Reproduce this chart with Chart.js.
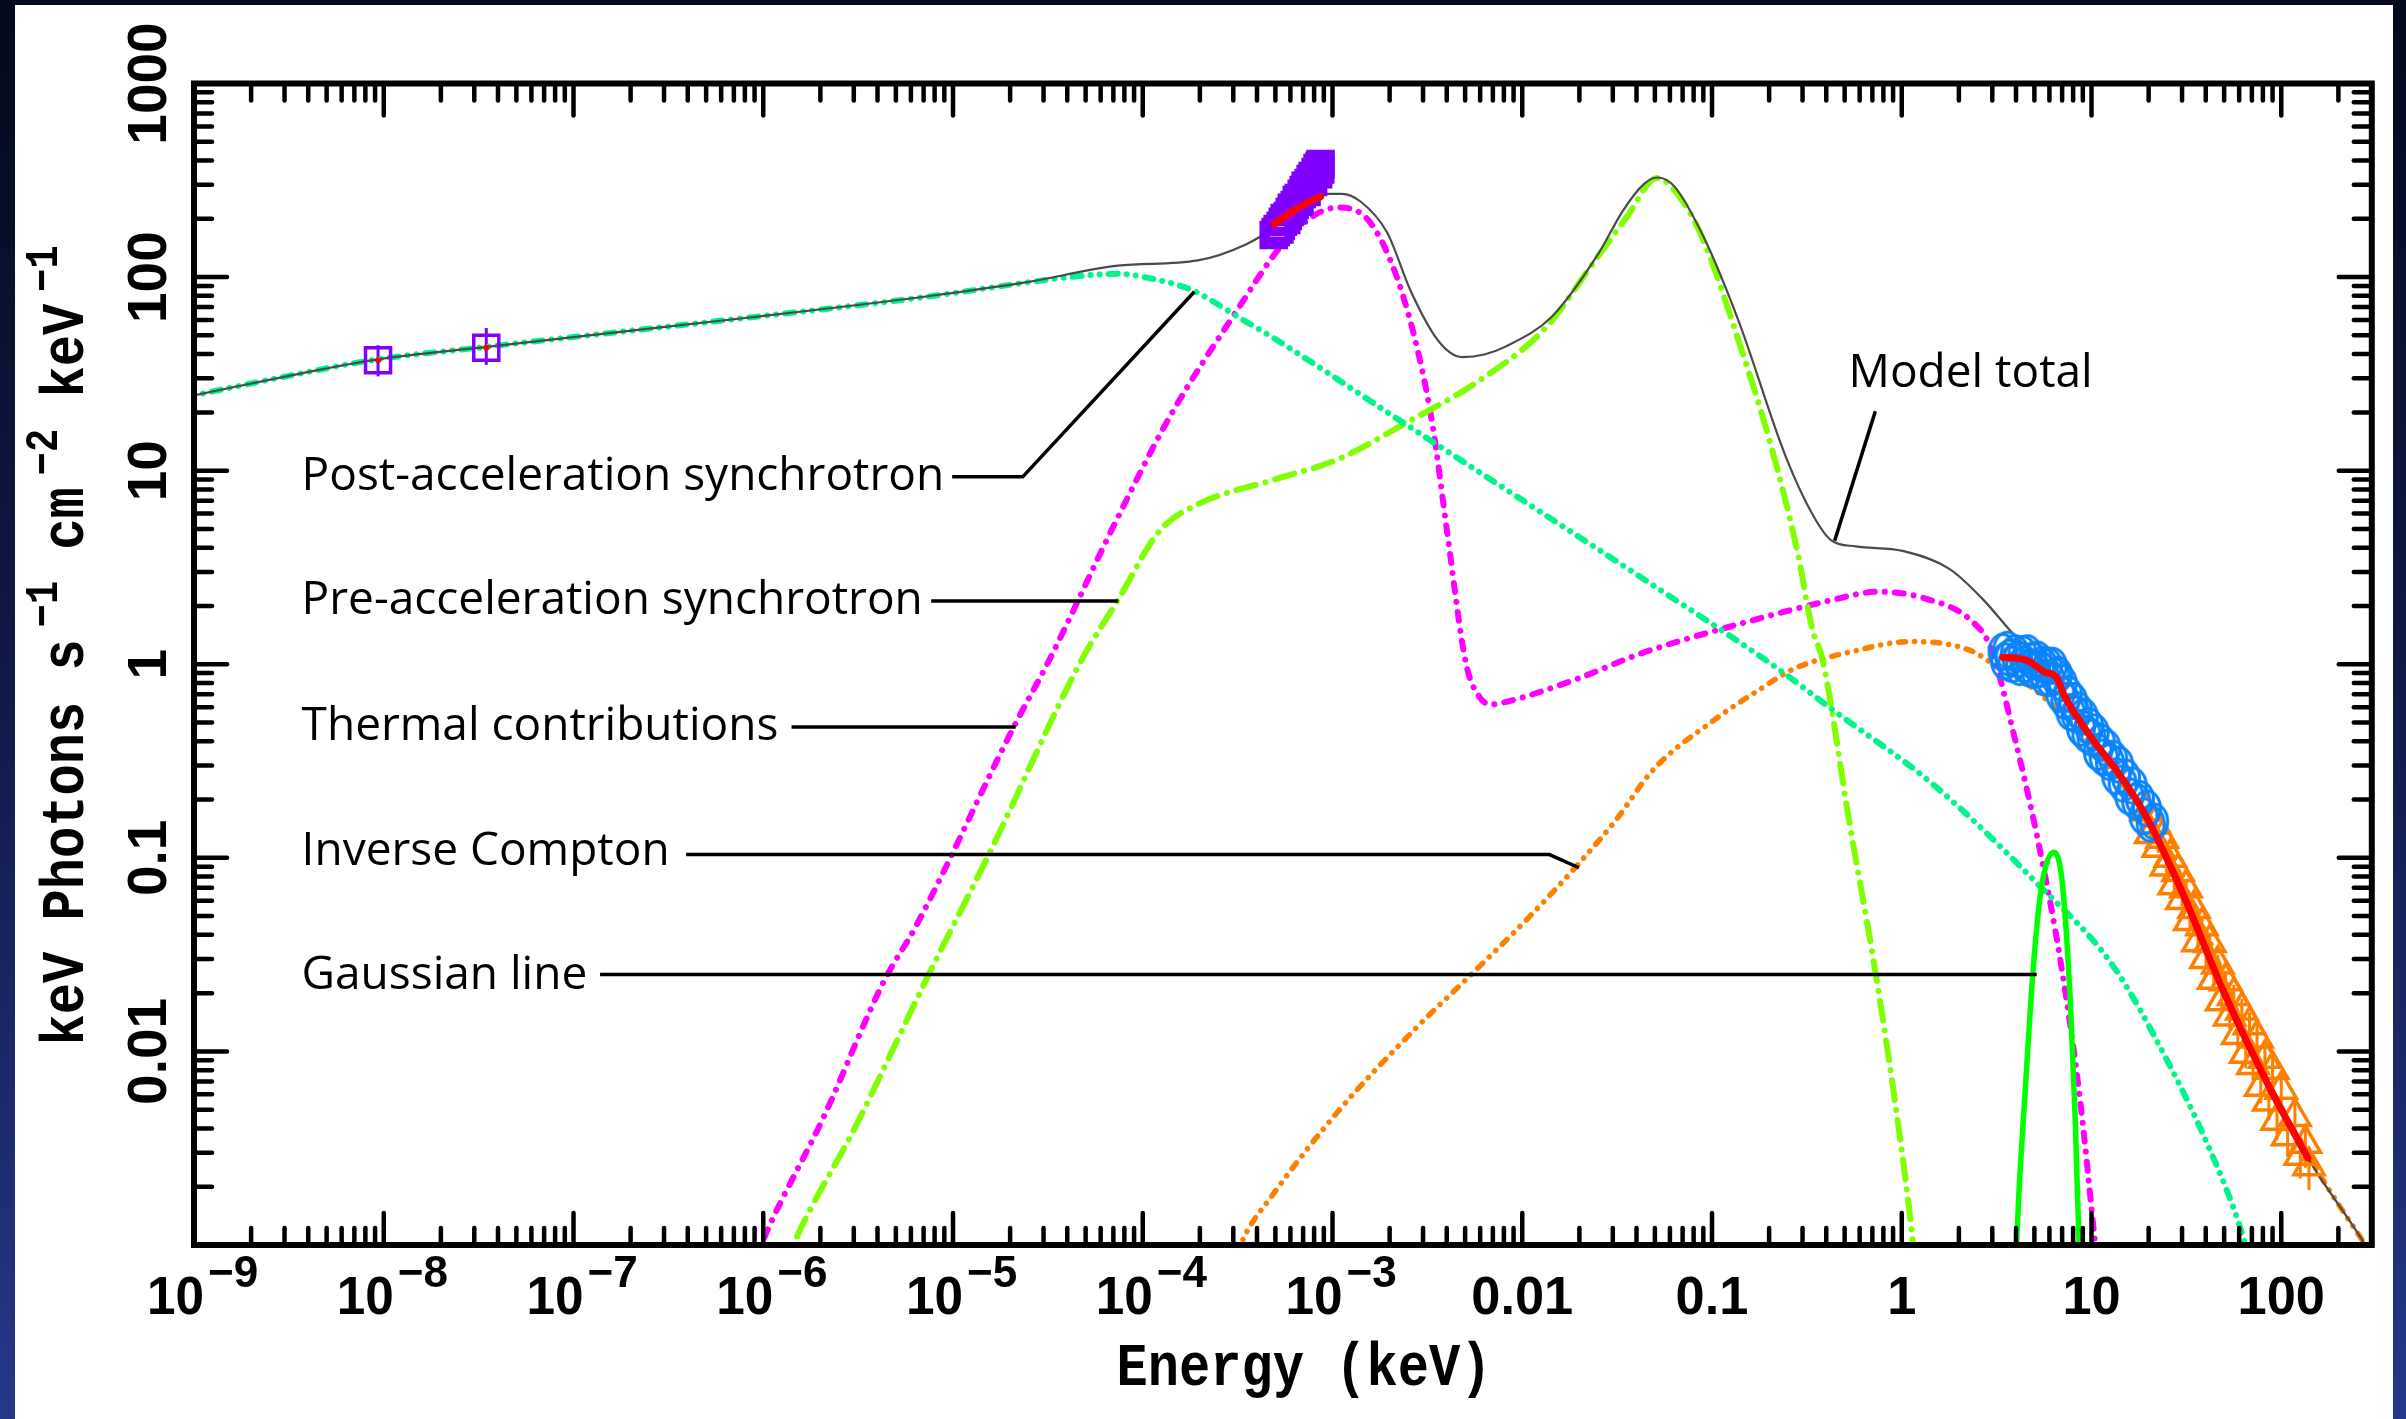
<!DOCTYPE html>
<html>
<head>
<meta charset="utf-8">
<script src="https://cdn.jsdelivr.net/npm/chart.js@4/dist/chart.umd.min.js"></script>
<style>
html, body { margin: 0; padding: 0; width: 2406px; height: 1419px; overflow: hidden;
  background: linear-gradient(180deg, #040a1e 0%, #0e1842 45%, #25388a 100%); }
#panel { position: absolute; left: 15px; top: 5px; width: 2378px; height: 1414px; background: #fff; }
canvas { display: block; }
</style>
</head>
<body>
<div id="panel"><canvas id="spectrum" width="2378" height="1414"></canvas></div>
<script>
// Energy in keV, flux in keV photons s^-1 cm^-2 keV^-1

// model components
const postAccel = [
  [1e-9, 24.5], [3.16e-9, 30.9], [9.1e-9, 37.5], [3.4e-8, 43.5], [1e-7, 49],
  [8.7e-7, 62], [7.2e-6, 79], [2.5e-5, 94], [5e-5, 102], [7.4e-5, 104],
  [1.12e-4, 98], [1.8e-4, 86], [3.2e-4, 62], [4.9e-4, 48.4], [2.4e-3, 17.5],
  [0.01, 7.05], [0.0437, 2.75], [0.224, 0.944], [0.427, 0.587], [1.48, 0.237],
  [5.25, 0.0726], [12.9, 0.0279], [25.7, 0.00855], [42.7, 0.0030], [60.3, 0.00126], [69, 0.00079]
];
const preAccel = [
  [1.26e-6, 0.00071], [1.47e-6, 0.00105], [3.08e-6, 0.00413], [7.18e-6, 0.0232], [1.58e-5, 0.109],
  [4.68e-5, 1.02], [7.38e-5, 2.14], [1.23e-4, 4.9], [1.95e-4, 6.7], [4.85e-4, 8.95],
  [1.08e-3, 11.5], [2.4e-3, 17.5], [5.97e-3, 29.3], [0.0133, 54.8], [0.0235, 117],
  [0.0355, 204], [0.0513, 325], [0.0692, 251], [0.0906, 153], [0.135, 50],
  [0.201, 14.3], [0.283, 3.75], [0.337, 1.53], [0.383, 1.05], [0.531, 0.150],
  [0.706, 0.0305], [0.887, 0.00713], [1.114, 0.00132], [1.175, 0.00079]
];
const thermal = [
  [8.9e-7, 0.00079], [1.04e-6, 0.00116], [2.07e-6, 0.00453], [4.34e-6, 0.0232], [6.35e-6, 0.044],
  [2.1e-5, 0.479], [3.23e-5, 1.06], [6.98e-5, 5.12], [1.38e-4, 18.8], [3.08e-4, 65.5],
  [5.43e-4, 147], [8.11e-4, 210], [1.08e-3, 229], [1.52e-3, 200], [2.02e-3, 122],
  [2.69e-3, 50], [3.37e-3, 17.1], [4.01e-3, 4.9], [5.04e-3, 1.02], [5.97e-3, 0.675],
  [6.89e-3, 0.621], [7.6e-3, 0.628], [0.0187, 0.828], [0.0432, 1.146], [0.135, 1.6],
  [0.423, 2.14], [0.748, 2.37], [1.32, 2.19], [2.34, 1.67], [2.94, 1.22],
  [3.91, 0.428], [5.2, 0.125], [6.92, 0.0279], [8.69, 0.00568], [10.3, 0.00116], [10.7, 0.00079]
];
const inverseCompton = [
  [3.16e-4, 0.00089], [3.35e-4, 0.00105], [4.85e-4, 0.00182], [1.08e-3, 0.00495], [2.69e-3, 0.0129],
  [5.64e-3, 0.0261], [0.0106, 0.0482], [0.0198, 0.0931], [0.0312, 0.157], [0.0488, 0.284],
  [0.102, 0.513], [0.178, 0.74], [0.268, 0.944], [0.562, 1.17], [1.11, 1.31],
  [2.34, 1.17], [3.30, 0.944], [5.0, 0.74], [10, 0.38], [20, 0.151],
  [39.8, 0.0417], [79.4, 0.0076], [158, 0.00234], [269, 0.00105], [302, 0.00089]
];
const gaussianLine = [
  [3.98, 0.00079], [4.14, 0.00182], [4.51, 0.00713], [4.91, 0.0255], [5.36, 0.0632],
  [5.83, 0.0953], [6.35, 0.107], [6.92, 0.0832], [7.33, 0.044], [7.74, 0.0177],
  [8.2, 0.00453], [8.59, 0.00105], [8.71, 0.00079]
];
const modelTotal = [
  [1e-9, 24.5], [3.16e-9, 30.9], [9.1e-9, 37.5], [3.4e-8, 43.5], [1e-7, 49],
  [8.7e-7, 62], [7.2e-6, 79.4], [2.5e-5, 94.4], [7.4e-5, 114.6], [1.95e-4, 122],
  [3.47e-4, 147], [5.0e-4, 182], [7.1e-4, 240], [9.5e-4, 269], [1.12e-3, 269],
  [1.41e-3, 245], [1.94e-3, 170], [2.58e-3, 85], [3.44e-3, 50], [4.17e-3, 40.7],
  [4.84e-3, 38.6], [6.3e-3, 39.8], [8.1e-3, 43.6], [0.0143, 62.4], [0.0253, 133],
  [0.0337, 218], [0.0437, 302], [0.0513, 327], [0.0631, 295], [0.0906, 160],
  [0.138, 59.4], [0.244, 11.9], [0.343, 5.81], [0.423, 4.38], [0.573, 4.06],
  [1.01, 3.85], [1.79, 3.1], [2.67, 2.17], [3.98, 1.39], [4.71, 1.19],
  [6.17, 0.912], [7.24, 0.692], [10, 0.427], [19.1, 0.166], [29.5, 0.0692],
  [50.1, 0.020], [85.1, 0.00676], [138, 0.00282], [269, 0.00105], [302, 0.00087]
];

// folded model through the data
const foldedUV = [[4.92e-4, 188], [6.15e-4, 218], [7.52e-4, 245], [8.65e-4, 260]];
const foldedXray = [
  [3.41, 1.087], [4.52, 1.05], [5.75, 0.906], [6.50, 0.861], [7.19, 0.690],
  [7.94, 0.581], [10.1, 0.411], [14.0, 0.270], [19.3, 0.165], [29.5, 0.0692],
  [50.1, 0.020], [85.1, 0.00676], [138, 0.00282]
];

// observations
const radio = [[9.33e-9, 37.2], [3.47e-8, 43.1]];
const radioErr = [[30.7, 44.5], [35.2, 54.6]];
const optical = [
  [4.90e-4, 165], [5.02e-4, 171], [5.14e-4, 177], [5.25e-4, 176], [5.33e-4, 184],
  [5.47e-4, 193], [5.60e-4, 202], [5.70e-4, 197], [5.81e-4, 207], [5.95e-4, 217],
  [6.10e-4, 228], [6.20e-4, 222], [6.32e-4, 236], [6.48e-4, 250], [6.64e-4, 256],
  [6.70e-4, 245], [6.88e-4, 269], [7.05e-4, 282], [7.22e-4, 296], [7.30e-4, 275],
  [7.48e-4, 306], [7.67e-4, 321], [7.86e-4, 333], [7.90e-4, 310], [8.15e-4, 349],
  [8.34e-4, 366], [8.40e-4, 340], [8.55e-4, 375], [8.65e-4, 384], [8.62e-4, 360]
];
const softXray = [
  [3.40, 1.16], [3.50, 1.035], [3.60, 1.19], [3.70, 1.08], [3.82, 1.00],
  [3.95, 1.14], [4.08, 1.06], [4.20, 0.966], [4.33, 1.13], [4.47, 1.00],
  [4.60, 1.14], [4.75, 0.948], [4.90, 1.045], [5.05, 0.935], [5.20, 1.057],
  [5.36, 0.946], [5.52, 0.995], [5.70, 0.851], [5.88, 0.984], [6.05, 0.847],
  [6.25, 0.982], [6.45, 0.863], [6.65, 0.883], [6.85, 0.70], [7.05, 0.798],
  [7.28, 0.646], [7.50, 0.703], [7.75, 0.566], [8.00, 0.646], [8.25, 0.551],
  [8.50, 0.578], [8.80, 0.469], [9.10, 0.537], [9.40, 0.437], [9.70, 0.479],
  [10.0, 0.418], [10.4, 0.445], [10.8, 0.352], [11.2, 0.395], [11.6, 0.330],
  [12.0, 0.370], [12.5, 0.312], [13.0, 0.325], [13.5, 0.264], [14.0, 0.302],
  [14.6, 0.242], [15.2, 0.260], [15.8, 0.208], [16.5, 0.236], [17.2, 0.196],
  [18.0, 0.201], [18.8, 0.164], [19.6, 0.180], [20.5, 0.150], [21.4, 0.154]
];
const hardXray = [
  [19.5, 0.174], [20.5, 0.133], [21.5, 0.149], [22.5, 0.113], [23.6, 0.126],
  [24.8, 0.0906], [26.0, 0.1005], [27.3, 0.0723], [28.6, 0.0847], [30.0, 0.0608],
  [31.5, 0.0698], [33.0, 0.0473], [34.7, 0.0545], [36.4, 0.0368], [38.2, 0.0444],
  [40.1, 0.0301], [42.0, 0.0364], [44.1, 0.0235], [46.3, 0.0282], [48.6, 0.0182],
  [51.0, 0.0231], [53.5, 0.0152], [56.2, 0.0194], [59.0, 0.0122], [62.0, 0.0163],
  [65.0, 0.00975], [68.0, 0.0137], [71.0, 0.00853], [74.5, 0.0117], [78.0, 0.00658],
  [82.0, 0.00918], [86.0, 0.00552], [90.0, 0.00807], [95.0, 0.00440], [100, 0.00635],
  [108, 0.00366], [118, 0.00460], [126, 0.00290], [134, 0.00334], [140, 0.00256]
];
const hardXrayErr = [
  0.06, 0.06, 0.06, 0.06, 0.07, 0.07, 0.07, 0.08, 0.08, 0.08,
  0.09, 0.09, 0.10, 0.10, 0.10, 0.11, 0.11, 0.12, 0.12, 0.13,
  0.13, 0.14, 0.14, 0.15, 0.15, 0.16, 0.16, 0.17, 0.18, 0.18,
  0.19, 0.20, 0.20, 0.21, 0.22, 0.22, 0.23, 0.24, 0.25, 0.25
];

// axes
const xTickValues = [1e-9, 1e-8, 1e-7, 1e-6, 1e-5, 1e-4, 1e-3, 0.01, 0.1, 1, 10, 100];
const xTickLabels = [['10', '−9'], ['10', '−8'], ['10', '−7'], ['10', '−6'], ['10', '−5'], ['10', '−4'], ['10', '−3'],
  ['0.01'], ['0.1'], ['1'], ['10'], ['100']];
const yTickValues = [0.01, 0.1, 1, 10, 100, 1000];
const yTickLabels = ['0.01', '0.1', '1', '10', '100', '1000'];
const minorSteps = [2, 3, 4, 5, 6, 7, 8, 9];

// callouts: label anchor and leader line, in data coordinates
const callouts = [
  { text: 'Post-acceleration synchrotron', at: [3.69e-9, 7.96], path: [[9.9e-6, 9.29], [2.33e-5, 9.29], [1.87e-4, 84]] },
  { text: 'Pre-acceleration synchrotron', at: [3.69e-9, 1.82], path: [[7.67e-6, 2.12], [7.43e-5, 2.12]] },
  { text: 'Thermal contributions', at: [3.69e-9, 0.406], path: [[1.41e-6, 0.474], [2.14e-5, 0.474]] },
  { text: 'Inverse Compton', at: [3.69e-9, 0.0923], path: [[3.92e-7, 0.104], [0.0139, 0.104], [0.0199, 0.0889]] },
  { text: 'Gaussian line', at: [3.69e-9, 0.0210], path: [[1.38e-7, 0.0250], [5.14, 0.0250]] },
  { text: 'Model total', at: [0.524, 27.2], path: [[0.726, 20.3], [0.443, 4.34]] }
];

const xy = list => list.map(p => ({ x: p[0], y: p[1] }));

// open ellipse marker for the soft X-ray points
const ring = document.createElement('canvas');
ring.width = 32; ring.height = 40;
(function () {
  const c = ring.getContext('2d');
  c.strokeStyle = '#0a84ff';
  c.lineWidth = 3;
  c.beginPath();
  c.ellipse(16, 20, 13.5, 17.5, 0, 0, Math.PI * 2);
  c.stroke();
})();

function curve(data, color, width, dash, order) {
  return {
    data: xy(data), showLine: true, borderColor: color, borderWidth: width,
    borderDash: dash, borderCapStyle: 'round', borderJoinStyle: 'round',
    cubicInterpolationMode: 'monotone', pointRadius: 0, order: order
  };
}

function markers(data, color, style, radius, order) {
  return {
    data: xy(data), showLine: false, pointStyle: style, pointRadius: radius,
    pointBorderColor: color, pointBackgroundColor: 'rgba(0,0,0,0)', pointBorderWidth: 3.5, order: order
  };
}

function scaledText(ctx, str, x, y, font, align, sx) {
  ctx.save();
  ctx.font = font;
  ctx.textAlign = align;
  ctx.textBaseline = 'alphabetic';
  ctx.translate(x, y);
  ctx.scale(sx, 1);
  ctx.fillText(str, 0, 0);
  ctx.restore();
}

const TICK_FONT = 'bold 54px "Liberation Sans"';
const EXP_FONT = 'bold 44px "Liberation Sans"';
const YTICK_FONT = 'bold 55px "Liberation Sans"';
const TITLE_FONT = 'bold 62px "Liberation Mono"';
const TITLE_SUP = 'bold 46px "Liberation Mono"';
const TITLE_SX = 0.84;
const NOTE_FONT = '46px "Open Sans"';

const spectrumFrame = {
  id: 'spectrumFrame',
  beforeDatasetsDraw(chart) {
    const { ctx, scales: { x, y } } = chart;
    ctx.save();
    ctx.lineWidth = 3;
    ctx.strokeStyle = '#8000ff';
    radio.forEach((p, i) => {
      const px = x.getPixelForValue(p[0]);
      ctx.beginPath();
      ctx.moveTo(px, y.getPixelForValue(radioErr[i][0]));
      ctx.lineTo(px, y.getPixelForValue(radioErr[i][1]));
      ctx.stroke();
    });
    ctx.strokeStyle = '#ff8000';
    hardXray.forEach((p, i) => {
      const px = x.getPixelForValue(p[0]);
      ctx.beginPath();
      ctx.moveTo(px, y.getPixelForValue(p[1] * (1 - hardXrayErr[i])));
      ctx.lineTo(px, y.getPixelForValue(p[1] * (1 + hardXrayErr[i])));
      ctx.stroke();
    });
    ctx.restore();
  },
  afterDatasetsDraw(chart) {
    const { ctx, chartArea: a, scales: { x, y } } = chart;
    ctx.save();
    ctx.fillStyle = '#000';
    ctx.strokeStyle = '#000';

    // callout labels and leader lines
    ctx.lineWidth = 3.5;
    ctx.lineCap = 'butt';
    ctx.lineJoin = 'miter';
    callouts.forEach(c => {
      scaledText(ctx, c.text, x.getPixelForValue(c.at[0]), y.getPixelForValue(c.at[1]), NOTE_FONT, 'left', 1.0);
      ctx.beginPath();
      c.path.forEach((p, i) => {
        const px = x.getPixelForValue(p[0]), py = y.getPixelForValue(p[1]);
        if (i) ctx.lineTo(px, py); else ctx.moveTo(px, py);
      });
      ctx.stroke();
    });

    // inward ticks on all four sides
    ctx.lineWidth = 4.5;
    ctx.lineCap = 'round';
    const xMax = x.max, yMax = y.max;
    const tick = (x1, y1, x2, y2) => { ctx.beginPath(); ctx.moveTo(x1, y1); ctx.lineTo(x2, y2); ctx.stroke(); };
    xTickValues.forEach(v => {
      const px = x.getPixelForValue(v);
      tick(px, a.bottom, px, a.bottom - 32);
      tick(px, a.top, px, a.top + 32);
      minorSteps.forEach(m => {
        if (v * m > xMax * 1.001) return;
        const mx = x.getPixelForValue(v * m);
        tick(mx, a.bottom, mx, a.bottom - 17);
        tick(mx, a.top, mx, a.top + 17);
      });
    });
    [0.001].concat(yTickValues).forEach(v => {
      const py = y.getPixelForValue(v);
      tick(a.left, py, a.left + 33, py);
      tick(a.right, py, a.right - 33, py);
      if (v >= yMax) return;
      minorSteps.forEach(m => {
        const my = y.getPixelForValue(v * m);
        tick(a.left, my, a.left + 18, my);
        tick(a.right, my, a.right - 18, my);
      });
    });

    // frame
    ctx.lineWidth = 6;
    ctx.lineCap = 'butt';
    ctx.strokeRect(a.left, a.top, a.right - a.left, a.bottom - a.top);

    // x tick labels
    xTickValues.forEach((v, i) => {
      const px = x.getPixelForValue(v);
      const lab = xTickLabels[i];
      if (lab.length === 2) {
        scaledText(ctx, lab[0], px + 10, a.bottom + 69, TICK_FONT, 'right', 0.95);
        scaledText(ctx, lab[1], px + 14, a.bottom + 42, EXP_FONT, 'left', 1.0);
      } else {
        scaledText(ctx, lab[0], px, a.bottom + 69, TICK_FONT, 'center', 0.97);
      }
    });

    // y tick labels, rotated
    yTickValues.forEach((v, i) => {
      ctx.save();
      ctx.translate(a.left - 28, y.getPixelForValue(v));
      ctx.rotate(-Math.PI / 2);
      scaledText(ctx, yTickLabels[i], 0, 0, YTICK_FONT, 'center', 1.0);
      ctx.restore();
    });

    // axis titles
    scaledText(ctx, 'Energy (keV)', a.left + 1110, a.bottom + 140, TITLE_FONT, 'center', TITLE_SX);

    const parts = [['keV Photons s', 0], ['−1', 1], [' cm', 0], ['−2', 1], [' keV', 0], ['−1', 1]];
    const gap = 12;
    let total = 0;
    parts.forEach(p => {
      ctx.font = p[1] ? TITLE_SUP : TITLE_FONT;
      total += ctx.measureText(p[0]).width * TITLE_SX + (p[1] ? gap : 0);
    });
    ctx.save();
    ctx.translate(a.left - 111, a.top + 562);
    ctx.rotate(-Math.PI / 2);
    let cx = -total / 2;
    parts.forEach(p => {
      if (p[1]) cx += gap;
      scaledText(ctx, p[0], cx, p[1] ? -26 : 0, p[1] ? TITLE_SUP : TITLE_FONT, 'left', TITLE_SX);
      ctx.font = p[1] ? TITLE_SUP : TITLE_FONT;
      cx += ctx.measureText(p[0]).width * TITLE_SX;
    });
    ctx.restore();

    ctx.restore();
  }
};

function draw() {
  new Chart(document.getElementById('spectrum'), {
    type: 'scatter',
    data: {
      datasets: [
        curve(postAccel, '#00f58a', 6, [0.1, 9, 0.1, 9, 9, 9], 6),
        curve(preAccel, '#80ff00', 6, [20, 10, 0.1, 10], 6),
        curve(thermal, '#ff00ff', 6, [9, 10, 0.1, 10], 6),
        curve(inverseCompton, '#ff8000', 5.5, [7, 9, 0.1, 9, 0.1, 9], 6),
        curve(gaussianLine, '#00ff00', 5.5, [], 5),
        curve(modelTotal, '#4a4a4a', 2.2, [], 4),
        markers(optical, '#8000ff', 'rect', 17.7, 2),
        markers(radio, '#8000ff', 'rect', 17.7, 2),
        { data: xy(softXray), showLine: false, pointStyle: ring, pointRadius: 16, order: 2 },
        markers(hardXray, '#ff8000', 'triangle', 17.5, 2),
        curve(foldedUV, '#ff0000', 7, [], 0),
        curve(foldedXray, '#ff0000', 7, [], 0),
        { data: xy(radio), showLine: false, pointRadius: 3, pointBorderWidth: 0, pointBackgroundColor: '#ff0000', order: 0 }
      ]
    },
    options: {
      responsive: false,
      animation: false,
      events: [],
      layout: { padding: { left: 179, top: 78.5, right: 12.5, bottom: 174 } },
      plugins: { legend: { display: false }, tooltip: { enabled: false } },
      scales: {
        x: { type: 'logarithmic', min: 1e-9, max: 300, display: false },
        y: { type: 'logarithmic', min: 1e-3, max: 1000, display: false }
      }
    },
    plugins: [spectrumFrame]
  });
}

Promise.all([TICK_FONT, TITLE_FONT, NOTE_FONT].map(f => document.fonts.load(f))).then(draw, draw);
</script>
</body>
</html>
